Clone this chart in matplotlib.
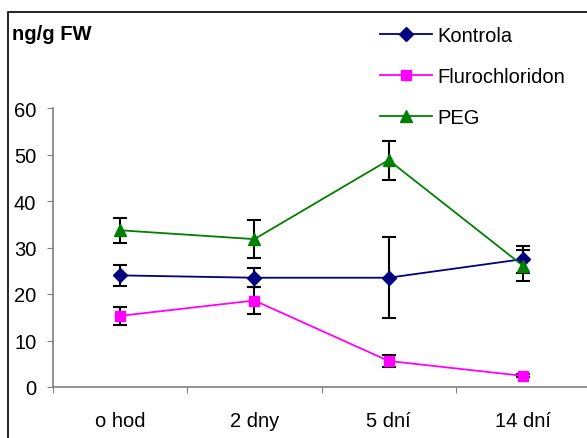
import matplotlib
matplotlib.use("Agg")
import matplotlib.pyplot as plt
from matplotlib.patches import Rectangle

plt.rcParams['font.family'] = ['Liberation Sans', 'DejaVu Sans']

# sampling times and measured content (ng/g FW)
times = ['o hod', '2 dny', '5 dní', '14 dní']
kontrola = [24.0, 23.5, 23.5, 27.5]
kontrola_err = [2.3, 2.0, 8.7, 2.9]
fluro = [15.3, 18.6, 5.6, 2.4]
fluro_err = [2.0, 3.0, 1.2, 0.3]
peg = [33.7, 31.8, 48.8, 26.1]
peg_err = [2.7, 4.1, 4.2, 3.3]

W, H = 587, 439
FS = 14.5
fig = plt.figure(figsize=(W / 100, H / 100), dpi=100)

# outer chart frame (continues past the right and bottom edges)
fig.add_artist(Rectangle((8 / W, -0.2), 2, 1 - 13 / H + 0.2,
                         transform=fig.transFigure, fill=False,
                         edgecolor='black', lw=1.2))

ax = fig.add_axes([53 / W, (H - 388) / H, (590 - 53) / W, (388 - 109) / H])
x = range(len(times))

series = [
    ('Kontrola', kontrola, kontrola_err, '#000080', 'D', 7.5),
    ('Flurochloridon', fluro, fluro_err, '#FF00FF', 's', 7.5),
    ('PEG', peg, peg_err, '#008000', '^', 9),
]
for label, vals, err, col, mk, ms in series:
    ax.errorbar(x, vals, yerr=err, color=col, marker=mk, markersize=ms,
                lw=1.3, ecolor='black', elinewidth=1.5, capsize=4.7,
                capthick=1.5, label=label)

ax.set_xlim(-0.5, 3.5)
ax.set_ylim(0, 60)
ax.set_yticks(range(0, 61, 10))
ax.set_xticks([-0.5, 0.5, 1.5, 2.5, 3.5])
ax.set_xticklabels([])
ax.set_xticks(list(x), minor=True)
ax.set_xticklabels(times, minor=True)
ax.tick_params(axis='x', which='minor', length=0, pad=17, labelsize=FS)
ax.tick_params(axis='x', which='major', direction='out', length=4,
               color='#808080')
ax.tick_params(axis='y', direction='out', length=4, pad=8, labelsize=FS,
               color='#808080')

for side in ('top', 'right'):
    ax.spines[side].set_visible(False)
for side in ('left', 'bottom'):
    ax.spines[side].set_color('#808080')
    ax.spines[side].set_linewidth(1.2)

fig.text(12 / W, 1 - 34 / H, 'ng/g FW', fontsize=FS, fontweight='bold',
         va='center', ha='left')

handles, labels = ax.get_legend_handles_labels()
handles = [h[0] for h in handles]
fig.legend(handles, labels, loc='upper left',
           bbox_to_anchor=(380 / W, 1 - 27 / H), frameon=False,
           fontsize=FS, handlelength=2.6, handletextpad=0.25,
           labelspacing=1.1, borderpad=0, borderaxespad=0)

fig.savefig('out.png', dpi=100)
